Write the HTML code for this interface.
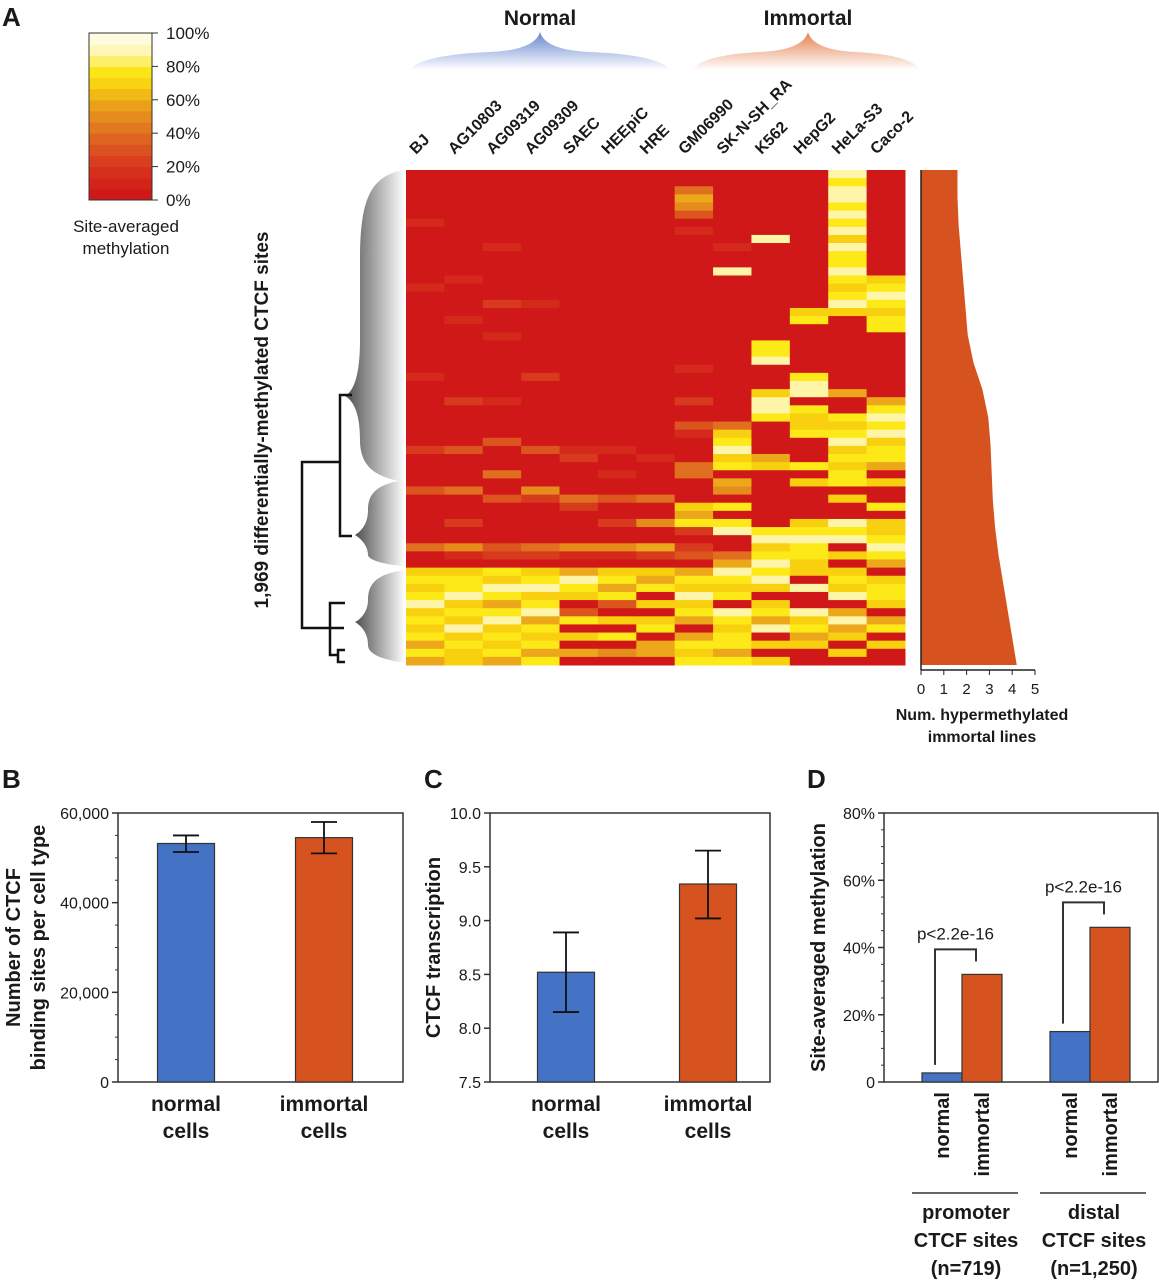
<!DOCTYPE html>
<html><head><meta charset="utf-8"><style>
html,body{margin:0;padding:0;background:#fff;}
svg{display:block;font-family:"Liberation Sans",Arial,sans-serif;}
.b{font-weight:bold;fill:#1a1a1a;}
</style></head><body>
<svg id="fig" width="1159" height="1280" viewBox="0 0 1159 1280" xmlns="http://www.w3.org/2000/svg">
<defs>
<linearGradient id="gBlue" x1="0" y1="0" x2="0" y2="1"><stop offset="0" stop-color="#4a70c8"/><stop offset="1" stop-color="#ffffff"/></linearGradient>
<linearGradient id="gOr" x1="0" y1="0" x2="0" y2="1"><stop offset="0" stop-color="#e06a30"/><stop offset="1" stop-color="#ffffff"/></linearGradient>
<linearGradient id="gGray" x1="0" y1="0" x2="1" y2="0"><stop offset="0" stop-color="#222"/><stop offset="1" stop-color="#fff"/></linearGradient>
</defs>
<text class="b" x="2" y="26" font-size="26">A</text>
<g id="cbar"></g>
<text class="b" x="126" y="232" font-size="17" text-anchor="middle" style="font-weight:normal">Site-averaged</text>
<text class="b" x="126" y="254" font-size="17" text-anchor="middle" style="font-weight:normal">methylation</text>

<text class="b" x="540" y="25" font-size="21" text-anchor="middle">Normal</text>
<text class="b" x="808" y="25" font-size="21" text-anchor="middle">Immortal</text>
<path d="M410,70 Q420,55 490,52 Q535,50 540,32 Q545,50 590,52 Q660,55 670,70 Z" fill="url(#gBlue)" opacity="0.85"/>
<path d="M692,70 Q702,55 760,52 Q803,50 808,32 Q813,50 856,52 Q912,55 920,70 Z" fill="url(#gOr)" opacity="0.85"/>

<g id="collabels"></g>
<g id="heat"></g>
<g id="area"></g>
<text class="b" x="982" y="720" font-size="16" text-anchor="middle">Num. hypermethylated</text>
<text class="b" x="982" y="742" font-size="16" text-anchor="middle">immortal lines</text>

<text class="b" font-size="19" transform="translate(268,420) rotate(-90)" text-anchor="middle">1,969 differentially-methylated CTCF sites</text>

<g>
<path d="M405,170 C370,175 360,200 360,260 L360,340 C360,380 352,392 345,396 C352,400 360,410 360,440 C360,470 380,478 405,482 Z" fill="url(#gGray)" opacity="0.8"/>
<path d="M405,480 C375,484 368,495 368,510 C368,525 360,532 355,535 C360,538 368,545 368,555 C368,560 385,565 405,566 Z" fill="url(#gGray)" opacity="0.8"/>
<path d="M405,570 C375,574 368,585 368,600 C368,612 360,620 355,622 C360,625 368,632 368,645 C368,655 385,660 405,663 Z" fill="url(#gGray)" opacity="0.8"/>
<path d="M352,395 H340 V536 H352 M340,462 H302 V628 H344 M330,628 V603 H345 M330,628 V655 H338 V650 H345 M338,655 V662 H345" fill="none" stroke="#111" stroke-width="2.5"/>
</g>

<text class="b" x="2" y="788" font-size="26">B</text>
<text class="b" x="424" y="788" font-size="26">C</text>
<text class="b" x="807" y="788" font-size="26">D</text>
<g id="pb"></g>
<g id="pc"></g>
<g id="pd"></g>
</svg>
<script>
const NS="http://www.w3.org/2000/svg";
function mk(p,t,a,txt){const e=document.createElementNS(NS,t);for(const k in a)e.setAttribute(k,a[k]);if(txt!==undefined)e.textContent=txt;p.appendChild(e);return e;}
// ---- data ----
const cellLines=["BJ","AG10803","AG09319","AG09309","SAEC","HEEpiC","HRE","GM06990","SK-N-SH_RA","K562","HepG2","HeLa-S3","Caco-2"];
const heatCols=[
"0000001000000010000000000100000000200003000000400787897878686",
"0000000000000100001000000000200000300004000200510788978797877",
"0000000001000000200010000000100003000400300000320879868978786",
"0000000000000000100000000200000000300005200000420789789687868",
"0000000000000000000000000000000000120000420000510698703807060",
"0000000000000000000000000000000000100100300200510786830708050",
"0000000000000000000000000000000000010000400500620768070780660",
"0046530100000000000000001000200310004400076820230687978606878",
"0000000001009000000000000000000478978065080890046987809878868",
"0000000090000000000008890007998000067000000089789897078690707",
"0000000000000000078000000899087780008070000789887709009786700",
"9899898979889878970000000006008789787880700989070787906967070",
"0000000000000789878800000000689897886070080778986078870680700"];
const hyperCounts=[1.6,1.6,1.65,1.75,1.85,1.95,2.05,2.3,2.7,2.95,3.05,3.1,3.15,3.25,3.4,3.6,3.8,4.0,4.2];
const areaTicks=[0,1,2,3,4,5];
const cbarTicks=["0%","20%","40%","60%","80%","100%"];
const bCats=["normal","immortal"], bVals=[53200,54500], bLo=[51300,51000], bHi=[55000,58000];
const bTicks=[0,20000,40000,60000];
const cCats=["normal","immortal"], cVals=[8.52,9.34], cLo=[8.15,9.02], cHi=[8.89,9.65];
const cTicks=[7.5,8.0,8.5,9.0,9.5,10.0];
const dGroups=["promoter","distal"], dN=["(n=719)","(n=1,250)"];
const dNormal=[2.7,15], dImmortal=[32,46];
const dTicks=[0,20,40,60,80];
// ---- colormap ----
const stops=[[0,[208,24,24]],[2,[216,58,30]],[4,[224,112,32]],[6,[236,168,26]],[7,[248,208,16]],[8,[253,232,24]],[9,[255,245,168]],[10,[255,251,224]]];
function cmap(v){for(let i=1;i<stops.length;i++){if(v<=stops[i][0]){const a=stops[i-1],b=stops[i],t=(v-a[0])/(b[0]-a[0]);return "rgb("+a[1].map((c,j)=>Math.round(c+(b[1][j]-c)*t)).join(",")+")";}}return "rgb(255,251,224)";}
// colorbar
const cb=document.getElementById("cbar");
for(let i=0;i<15;i++){const v=i/14*10;const r=mk(cb,"rect",{x:89,y:200-(i+1)*167/15,width:63,height:167/15+0.5,fill:cmap(v)});

}
mk(cb,"rect",{x:89,y:33,width:63,height:167,fill:"none",stroke:"#333","stroke-width":1});
cbarTicks.forEach((t,i)=>{const y=200-i*167/5;mk(cb,"line",{x1:152,x2:158,y1:y,y2:y,stroke:"#333"});
const tx=mk(cb,"text",{x:166,y:y+6,"font-size":17,fill:"#1a1a1a"},t);

});
// heatmap
const HX=406,HW=499,HY=170,HH=495,cw=HW/heatCols.length;
const hg=document.getElementById("heat"), lg=document.getElementById("collabels");
heatCols.forEach((s,c)=>{const rh=HH/s.length;for(let r=0;r<s.length;r++){const cell=mk(hg,"rect",{x:HX+c*cw,y:HY+r*rh,width:cw+0.5,height:rh+0.5,fill:cmap(+s[r])});

}
const lx=HX+c*cw+10,ly=155;
const t=mk(lg,"text",{x:lx,y:ly,"font-size":16,"font-weight":"bold",fill:"#1a1a1a",transform:`rotate(-45 ${lx} ${ly})`},cellLines[c]);

});
// area plot
const ag=document.getElementById("area");const AX=921,AU=22.8,AY0=170,AY1=665;
let d=`M${AX},${AY0}`;hyperCounts.forEach((v,i)=>{d+=` L${AX+v*AU},${AY0+i*(AY1-AY0)/(hyperCounts.length-1)}`;});d+=` L${AX},${AY1} Z`;
const ap=mk(ag,"path",{d:d,fill:"#d6531f"});


mk(ag,"line",{x1:AX,x2:AX,y1:AY0,y2:AY1+5,stroke:"#222","stroke-width":1.5});
mk(ag,"line",{x1:AX,x2:AX+5*AU,y1:AY1+5,y2:AY1+5,stroke:"#222","stroke-width":1.5});
areaTicks.forEach(t=>{const x=AX+t*AU;mk(ag,"line",{x1:x,x2:x,y1:AY1+5,y2:AY1+10,stroke:"#222"});
const tx=mk(ag,"text",{x:x,y:694,"font-size":15,"text-anchor":"middle",fill:"#1a1a1a"},t);

});
// bar panels
function barPanel(id,box,ymin,ymax,ticks,fmt,cats,vals,lo,hi,xs,bw,title,minor){
 const g=document.getElementById(id);const[x0,y0,x1,y1]=box;const Y=v=>y1-(v-ymin)/(ymax-ymin)*(y1-y0);
 mk(g,"rect",{x:x0,y:y0,width:x1-x0,height:y1-y0,fill:"none",stroke:"#333","stroke-width":1.5});
 for(let i=0;i<ticks.length;i++){const y=Y(ticks[i]);mk(g,"line",{x1:x0-6,x2:x0,y1:y,y2:y,stroke:"#333","stroke-width":1.5});
  const tx=mk(g,"text",{x:x0-9,y:y+6,"font-size":16,"text-anchor":"end",fill:"#1a1a1a"},fmt(ticks[i]));
  
  
  if(minor&&i<ticks.length-1){for(let k=1;k<minor;k++){const v=ticks[i]+(ticks[i+1]-ticks[i])*k/minor;mk(g,"line",{x1:x0-3,x2:x0,y1:Y(v),y2:Y(v),stroke:"#333"});}}}
 cats.forEach((c,i)=>{const x=xs[i];const bar=mk(g,"rect",{x:x-bw/2,y:Y(vals[i]),width:bw,height:y1-Y(vals[i]),fill:i?"#d6531f":"#4472c4",stroke:"#333","stroke-width":1.2});
  
  
  mk(g,"path",{d:`M${x},${Y(lo[i])}V${Y(hi[i])}M${x-13},${Y(lo[i])}H${x+13}M${x-13},${Y(hi[i])}H${x+13}`,stroke:"#111","stroke-width":1.8,fill:"none"});
  const l1=mk(g,"text",{x:x,y:1111,"font-size":21,"text-anchor":"middle",class:"b"},c);
  
  
  const l2=mk(g,"text",{x:x,y:1138,"font-size":21,"text-anchor":"middle",class:"b"},"cells");
  
  });
 title.forEach((t,i)=>{const tt=mk(g,"text",{"font-size":20,class:"b","text-anchor":"middle",transform:`translate(${t[1]},${(y0+y1)/2}) rotate(-90)`},t[0]);
  
  });
}
barPanel("pb",[118,813,403,1082],0,60000,bTicks,v=>v.toLocaleString("en-US"),bCats,bVals,bLo,bHi,[186,324],57,[["Number of CTCF",20],["binding sites per cell type",45]],4);
barPanel("pc",[490,813,770,1082],7.5,10,cTicks,v=>v.toFixed(1),cCats,cVals,cLo,cHi,[566,708],57,[["CTCF transcription",440]],0);
// panel D
(function(){const g=document.getElementById("pd");const x0=884,y0=813,x1=1158,y1=1082;const Y=v=>y1-v/80*(y1-y0);
 mk(g,"rect",{x:x0,y:y0,width:x1-x0,height:y1-y0,fill:"none",stroke:"#333","stroke-width":1.5});
 dTicks.forEach((t,i)=>{const y=Y(t);mk(g,"line",{x1:x0-6,x2:x0,y1:y,y2:y,stroke:"#333","stroke-width":1.5});
  const tx=mk(g,"text",{x:x0-9,y:y+6,"font-size":16,"text-anchor":"end",fill:"#1a1a1a"},t===0?"0":t+"%");
  
  
  if(i<dTicks.length-1)for(let k=1;k<4;k++)mk(g,"line",{x1:x0-3,x2:x0,y1:Y(t+5*k),y2:Y(t+5*k),stroke:"#333"});});
 const tt=mk(g,"text",{"font-size":20,class:"b","text-anchor":"middle",transform:`translate(825,${(y0+y1)/2}) rotate(-90)`},"Site-averaged methylation");
 
 
 const cx=[962,1090],bw=40;
 dGroups.forEach((gname,i)=>{const c=cx[i];
  const b1=mk(g,"rect",{x:c-bw,y:Y(dNormal[i]),width:bw,height:y1-Y(dNormal[i]),fill:"#4472c4",stroke:"#333","stroke-width":1.2});
  
  
  const b2=mk(g,"rect",{x:c,y:Y(dImmortal[i]),width:bw,height:y1-Y(dImmortal[i]),fill:"#d6531f",stroke:"#333","stroke-width":1.2});
  
  
  const top=Y(dImmortal[i])-25, lx=c-bw/2-7, rx=c+bw/2-6;
  mk(g,"path",{d:`M${lx},${Y(dNormal[i])-8}V${top}H${rx}V${top+12}`,fill:"none",stroke:"#333","stroke-width":2});
  const pv=mk(g,"text",{x:(lx+rx)/2,y:top-10,"font-size":17,"text-anchor":"middle",fill:"#1a1a1a"},"p<2.2e-16");
  
  
  [["normal",c-bw/2],["immortal",c+bw/2]].forEach(([t,x])=>{const e=mk(g,"text",{"font-size":20,class:"b","text-anchor":"end",transform:`translate(${x+7},1092) rotate(-90)`},t);
   
   });
  mk(g,"line",{x1:c-bw-10,x2:c+bw+16,y1:1193,y2:1193,stroke:"#333","stroke-width":1.5});
  [gname,"CTCF sites",dN[i]].forEach((t,k)=>{const e=mk(g,"text",{x:c+4,y:1219+k*28,"font-size":20,class:"b","text-anchor":"middle"},t);
   
   });
 });})();
</script>
</body></html>
